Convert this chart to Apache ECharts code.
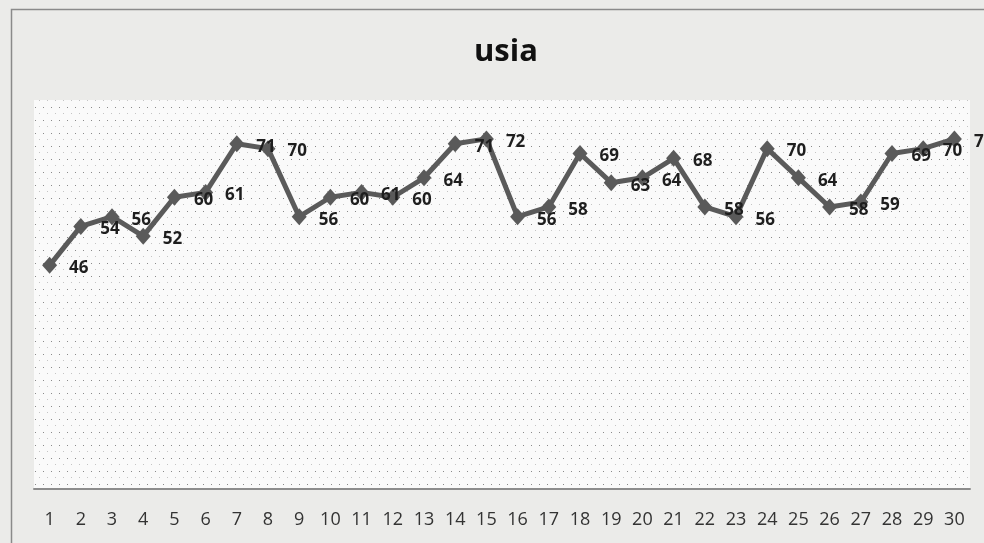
<!DOCTYPE html>
<html>
<head>
<meta charset="utf-8">
<script src="https://cdn.jsdelivr.net/npm/echarts@6/dist/echarts.min.js"></script>
<style>
html,body{margin:0;padding:0;background:#ebebe9;}
#chart{width:984px;height:543px;}
</style>
</head>
<body>
<div id="chart"></div>
<script>
const titleText = "usia";
const categories = ["1","2","3","4","5","6","7","8","9","10","11","12","13","14","15","16","17","18","19","20","21","22","23","24","25","26","27","28","29","30"];
const usiaValues = [46,54,56,52,60,61,71,70,56,60,61,60,64,71,72,56,58,69,63,64,68,58,56,70,64,58,59,69,70,72];
const yMin = 0;
const yMax = 80;

// dotted plot-area pattern
const pc = document.createElement('canvas');
pc.width = 8; pc.height = 13;
const ctx = pc.getContext('2d');
ctx.fillStyle = '#fafafa';
ctx.fillRect(0, 0, 8, 13);
ctx.fillStyle = '#8a8a8a';
ctx.fillRect(3, 3, 1, 1);
ctx.fillStyle = '#c4c4c4';
ctx.fillRect(7, 9, 1, 1);

const chart = echarts.init(document.getElementById('chart'), null, {renderer: 'canvas'});
chart.setOption({
  backgroundColor: '#ebebe9',
  animation: false,
  title: {
    text: titleText,
    left: 469,
    top: 32,
    textStyle: {fontFamily: 'Open Sans', fontWeight: 'bold', fontSize: 31, color: '#111'}
  },
  graphic: [{
    type: 'rect',
    left: 9, top: 7,
    shape: {width: 1000, height: 600},
    style: {fill: 'none', stroke: '#8a8a8a', lineWidth: 1.5},
    silent: true
  }],
  grid: {
    left: 34, right: 14, top: 100, bottom: 54,
    show: true,
    borderWidth: 0,
    backgroundColor: {image: pc, repeat: 'repeat'}
  },
  xAxis: {
    type: 'category',
    data: categories,
    boundaryGap: true,
    axisLine: {show: true, lineStyle: {color: '#8c8c8c', width: 2}},
    axisTick: {show: false},
    axisLabel: {margin: 22, fontFamily: 'Open Sans', fontSize: 18, color: '#333', interval: 0}
  },
  yAxis: {
    type: 'value',
    min: yMin, max: yMax,
    show: false,
    splitLine: {show: false}
  },
  series: [{
    type: 'line',
    data: usiaValues,
    symbol: 'diamond',
    symbolSize: [15, 17],
    lineStyle: {color: '#5a5a5a', width: 5},
    itemStyle: {color: '#5a5a5a'},
    label: {
      show: true,
      position: 'right',
      distance: 12,
      offset: [0, 3],
      fontFamily: 'Open Sans',
      fontWeight: 'bold',
      fontSize: 17,
      color: '#1e1e1e'
    }
  }]
});
</script>
</body>
</html>
